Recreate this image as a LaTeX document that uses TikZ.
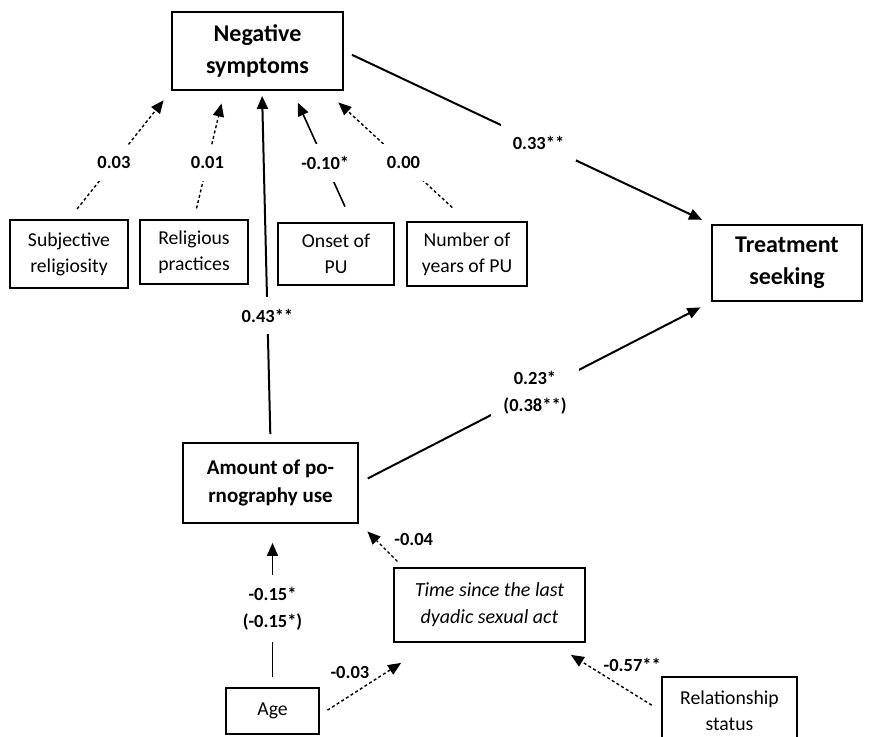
\documentclass[tikz,border=0pt]{standalone}
\usepackage{fontspec}
\setmainfont{Carlito}
\usetikzlibrary{arrows.meta}
\tikzset{
  var/.style = {draw, rectangle, line width = 1.8pt, inner sep = 0pt, align = center, font = \fontsize{19.7}{26}\selectfont},
  keyvar/.style = {var, font = \fontsize{24}{32}\selectfont\bfseries},
  coef/.style = {font = \fontsize{18.5}{27}\selectfont\bfseries, align = center, fill = white, inner sep = 12pt},
  coeflbl/.style = {font = \fontsize{18.5}{27}\selectfont\bfseries, inner sep = 0pt},
  effect/.style = {line width = 2pt, -{Triangle[length = 13pt, width = 11pt]}},
  weak/.style = {effect, line width = 1.4pt, dash pattern = on 3pt off 2.5pt}
}

\begin{document}
\begin{tikzpicture}[x = 1pt, y = -1pt]
      \useasboundingbox (0,0) rectangle (883,736);
      \node[keyvar, minimum width = 171pt, minimum height = 78pt] at (257.5,51) (neg) {Negative\\symptoms};
      \node[var, minimum width = 118pt, minimum height = 68pt] at (69,254) (subj) {Subjective\\religiosity};
      \node[var, minimum width = 108pt, minimum height = 64pt] at (194,252) (relig) {Religious\\practices};
      \node[var, minimum width = 116pt, minimum height = 62pt] at (336,254) (onset) {Onset of\\PU};
      \node[var, minimum width = 120pt, minimum height = 64pt] at (467,254) (years) {Number of\\years of PU};
      \node[keyvar, minimum width = 150pt, minimum height = 76pt] at (787,263) (treat) {Treatment\\seeking};
      \node[var, font = \fontsize{21}{28}\selectfont\bfseries, minimum width = 175pt, minimum height = 80pt] at (270.5,483) (amount) {Amount of po-\\rnography use};
      \node[var, font = \fontsize{20}{27}\selectfont\itshape, minimum width = 191pt, minimum height = 74pt] at (489.5,605) (time) {Time since the last\\dyadic sexual act};
      \node[var, minimum width = 93pt, minimum height = 46pt] at (272.5,711) (age) {Age};
      \node[var, minimum width = 135pt, minimum height = 68pt] at (729.5,711) (rel) {Relationship\\status};

      % paths into negative symptoms
      \draw[weak, shorten <= 13pt, shorten >= 12pt] (subj.north) -- node[coef, pos = 0.44] {0.03} (neg.south west);
      \draw[weak, shorten <= 11pt, shorten >= 13pt] (relig.north) -- node[coef, pos = 0.44] {0.01} ([xshift = -33]neg.south);
      \draw[effect, line width = 1.6pt, shorten <= 17pt, shorten >= 13pt] ([xshift = 16]onset.north) -- node[coef, pos = 0.45] {-0.10*} ([xshift = 35]neg.south);
      \draw[weak, shorten <= 20pt, shorten >= 17pt] (years.north) -- node[coef, pos = 0.45] {0.00} ([xshift = -18]neg.south east);
      \draw[effect, shorten <= 8pt, shorten >= 5pt] (amount.north) -- node[coef, pos = 0.36] {0.43**} ([xshift = 4.5]neg.south);

      % paths into treatment seeking
      \draw[effect, shorten <= 9pt, shorten >= 10pt] (neg.east) -- node[coef, pos = 0.53] {0.33**} (treat.north west);
      \draw[effect, shorten <= 10pt, shorten >= 12pt] (amount.east) -- node[coef, pos = 0.5] {0.23*\\(0.38**)} (treat.south west);

      % paths at the bottom
      \draw[effect, line width = 1.6pt, shorten <= 10pt, shorten >= 19pt] (age.north) -- node[coef, pos = 0.48] {-0.15*\\(-0.15*)} (age.north |- amount.south);
      \draw[weak, shorten <= 8pt, shorten >= 5pt] ([xshift = 10]time.north west) -- node[coeflbl, pos = 0.7, right = 18pt] {-0.04} ([shift = {(5,4)}]amount.south east);
      \draw[weak, shorten <= 9pt] ([shift = {(0,4)}]age.east) -- node[coeflbl, pos = 0.37, above = 16pt] {-0.03} ([shift = {(8,20)}]time.south west);
      \draw[weak, shorten <= 11pt] (rel.west) -- node[coeflbl, pos = 0.32, above = 21pt] {-0.57**} ([shift = {(-15,12)}]time.south east);
\end{tikzpicture}
\end{document}
